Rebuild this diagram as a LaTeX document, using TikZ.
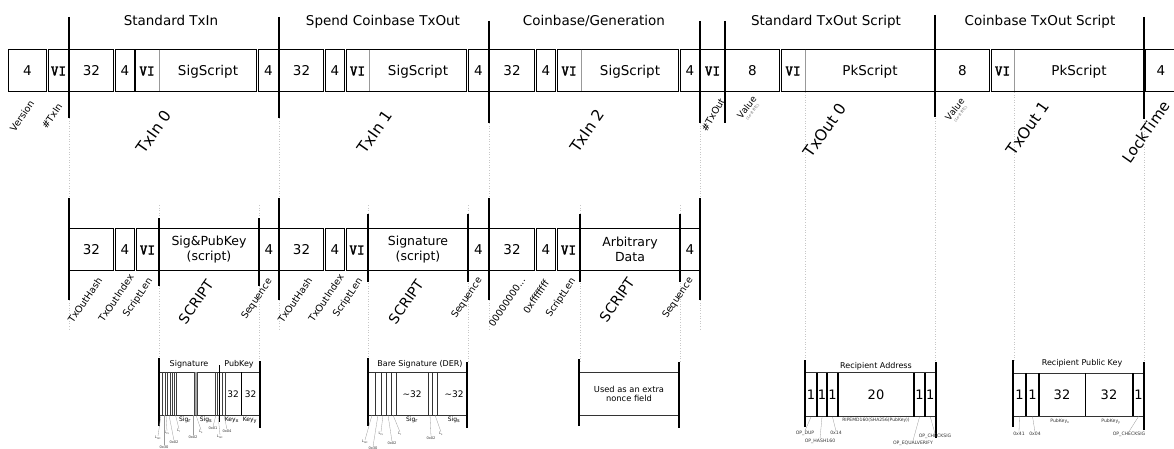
\documentclass[tikz,border=0pt]{standalone}
\usepackage{fontspec}
\setmainfont{DejaVu Sans}
\newfontfamily\lmmonob{lmmono10-regular}[Extension=.otf, FakeBold=2.5]
\newcommand\fsz[1]{\fontsize{#1}{#1}\selectfont}
\newcommand\VIf{\lmmonob\fontsize{14.5}{16}\selectfont}
\begin{document}
\begin{tikzpicture}[x=1pt,y=-1pt,
 tf/.style={draw, line width=1.2pt, minimum height=41.8pt, inner sep=0pt, text height=9.8pt, text depth=0pt, font=\fsz{13.5}},
 mf/.style={draw, line width=1pt, minimum height=42pt, inner sep=0pt, text height=9.8pt, text depth=0pt, font=\fsz{13.5}},
 txt/.style={inner sep=0pt, text height=9.8pt, text depth=0pt, font=\fsz{13.5}},
 sepl/.style={line width=2pt},
 bsep/.style={line width=2.2pt},
 dotl/.style={black!22, dotted, line width=0.6pt},
 title/.style={font=\fsz{13.5}, anchor=base, inner sep=0pt},
 lbl/.style={font=\fsz{9.5}, rotate=56, inner sep=0pt},
 big/.style={font=\fsz{15.5}, rotate=55, inner sep=0pt},
 bline/.style={line width=0.9pt, black!80},
 thinl/.style={line width=0.5pt, black!75},
 divl/.style={line width=1.2pt},
 btitle/.style={font=\fsz{8}, inner sep=0pt},
 bnum/.style={inner sep=0pt, text height=9.5pt, text depth=0pt, font=\fsz{13}},
 snum/.style={inner sep=0pt, text height=6.5pt, text depth=0pt, font=\fsz{9}},
 sub/.style={font=\fsz{6}, inner sep=0pt, anchor=base},
 tiny/.style={font=\fsz{3.6}, inner sep=0pt, black!80},
 small/.style={font=\fsz{4.6}, inner sep=0pt, black!80},
 lead/.style={line width=0.3pt, black!40}
]
\useasboundingbox (0,0) rectangle (1174,449);

% ---------- dotted guide lines ----------
\foreach \x in {69,279,489,700} \draw[dotl] (\x,92) -- (\x,330);
\foreach \x in {159,259,368,468,580,680} \draw[dotl] (\x,205) -- (\x,362);
\foreach \x in {805,935,1014,1144} \draw[dotl] (\x,92) -- (\x,362);

% ---------- section titles ----------
\node[title] (h1) at (171,26) {Standard TxIn};
\node[title] (h2) at (383,26) {Spend Coinbase TxOut};
\node[title] (h3) at (594,26) {Coinbase/Generation};
\node[title] (h4) at (826,26) {Standard TxOut Script};
\node[title] (h5) at (1040,26) {Coinbase TxOut Script};

% ---------- top row ----------
\foreach \l/\r/\t/\n in {8/47/4/ver,48/69/{\VIf VI}/ntxin,69/114/32/ha,115/135/4/ia,258/279/4/qa,279/324/32/hb,325/345/4/ib,468/489/4/qb,489/535/32/hc,536/556/4/ic,680/700/4/qc,700/725/{\VIf VI}/ntxout,725/780/8/va,935/990/8/vb}
  \node[tf, minimum width={\r-\l-1.2}] (\n) at ({(\l+\r)/2},70.5) {\t};
\node[tf, minimum width=40pt] (lock) at (1165.6,70.5) {};
\node[txt] (locktxt) at (1161,70.5) {4};
\foreach \l/\d/\r/\t/\n in {135/159/257/SigScript/sa,346/369/467/SigScript/sb,557/581/679/SigScript/sc,781/805/935/PkScript/pa,991/1014/1144/PkScript/pb} {
  \node[tf, minimum width={\r-\l-1.2}] (\n) at ({(\l+\r)/2},70.5) {};
  \draw[black!40, line width=0.6pt] (\d,49.6) -- (\d,91.4);
  \node[txt] (v\n) at ({(\l+\d)/2},70.5) {\VIf VI};
  \node[txt] (t\n) at ({(\d+\r)/2},70.5) {\t};
}
\foreach \x/\a/\b in {69/17/118,279/17/118,489/21/123,700/21/123,725/21/123,935/15/117,1144/17/119}
  \draw[sepl] (\x,\a) -- (\x,\b);

% ---------- labels under top row ----------
\node[lbl] (lver) at (22,116) {Version};
\node[lbl] (ltxin) at (52,116) {\#TxIn};
\node[big] (ltx0) at (154,132) {TxIn 0};
\node[big] (ltx1) at (375,132) {TxIn 1};
\node[big] (ltx2) at (587,131) {TxIn 2};
\node[lbl, rotate=4] (ltxout) at (713,115) {\#TxOut};
\node[font=\fsz{9}, rotate=52, align=center, inner sep=0pt] (lval1) at (749,109) {Value\\[-3.5pt]{\fsz{3.6}\color{black!60}(1e-8 BTC)}};
\node[big] (lout0) at (825,130) {TxOut 0};
\node[font=\fsz{9}, rotate=52, align=center, inner sep=0pt] (lval2) at (957,111) {Value\\[-3.5pt]{\fsz{3.6}\color{black!60}(1e-8 BTC)}};
\node[big] (lout1) at (1028,128) {TxOut 1};
\node[big, font=\fsz{15}] (llock) at (1146,132) {LockTime};

% ---------- middle row ----------
\foreach \l/\r/\t/\n in {69/114/32/mha,115/135/4/mia,136/159/{\VIf VI}/mla,259/279/4/mqa,279/324/32/mhb,325/345/4/mib,346/368/{\VIf VI}/mlb,468/489/4/mqb,489/535/32/mhc,536/556/4/mic,557/580/{\VIf VI}/mlc,680/700/4/mqc}
  \node[mf, minimum width={\r-\l-1}] (\n) at ({(\l+\r)/2},249.5) {\t};
\foreach \l/\r/\t/\n in {159/259/{Sig\&PubKey\\(script)}/msa,368/468/{Signature\\(script)}/msb,580/680/{Arbitrary\\Data}/msc}
  \node[draw, line width=1pt, minimum height=42pt, minimum width={\r-\l}, align=center, font=\fontsize{12.5}{15}\selectfont, inner sep=0pt] (\n) at ({(\l+\r)/2},249.5) {\t};
\foreach \x/\a/\b in {69/198/300,279/198/300,489/198/300,700/198/300,159/218/286,259/218/286,368/214/282,468/214/282,580/214/282,680/214/282}
  \draw[sepl] (\x,\a) -- (\x,\b);

% ---------- labels under middle row ----------
\node[lbl] (m1) at (85,300) {TxOutHash};
\node[lbl] (m2) at (116,298) {TxOutIndex};
\node[lbl] (m3) at (138,298) {ScriptLen};
\node[big, font=\fsz{14}] (m4) at (196,302) {SCRIPT};
\node[lbl] (m5) at (257,299) {Sequence};
\node[lbl] (m6) at (295,300) {TxOutHash};
\node[lbl] (m7) at (326,298) {TxOutIndex};
\node[lbl] (m8) at (348,298) {ScriptLen};
\node[big, font=\fsz{14}] (m9) at (406,302) {SCRIPT};
\node[lbl] (m10) at (467,298) {Sequence};
\node[lbl] (m11) at (507,302) {00000000...};
\node[lbl] (m12) at (536,297) {0xffffffff};
\node[lbl] (m13) at (561,298) {ScriptLen};
\node[big, font=\fsz{14}] (m14) at (617,300) {SCRIPT};
\node[lbl] (m15) at (678,298) {Sequence};

% ---------- box A: Signature / PubKey ----------
\draw[bline] (159,372) -- (260,372);
\draw[bline] (159,415) -- (260,415);
\fill[black!35] (194,372) rectangle (197,415);
\foreach \x in {162.7,165,167.3,170,172.3,174.5,176.7,194,197,215.7,217.5,222.5,225}
  \draw[thinl] (\x,372) -- (\x,415);
\draw[line width=0.8pt] (241,372) -- (241,415);
\draw[bsep] (159.3,358) -- (159.3,426);
\draw[bsep] (260,361) -- (260,428);
\draw[line width=1.6pt] (219.3,365) -- (219.3,422);
\node[btitle] (asig) at (189,364) {Signature};
\node[btitle] (apub) at (239,364) {PubKey};
\node[snum] (a32x) at (233,394) {32};
\node[snum] (a32y) at (250.5,394) {32};
\node[sub] (asr) at (185,421) {Sig\textsubscript{r}};
\node[sub] (ass) at (206,421) {Sig\textsubscript{s}};
\node[sub] (akx) at (232,421) {Key\textsubscript{x}};
\node[sub] (aky) at (250,421) {Key\textsubscript{y}};
\node[tiny] (at1) at (158,438) {L\textsubscript{tot}};
\node[tiny] (at2) at (164,447) {0x30};
\node[tiny] (at3) at (167,433) {L\textsubscript{rs}};
\node[tiny] (at4) at (174,442) {0x02};
\node[tiny] (at5) at (179,431) {L\textsubscript{r}};
\node[tiny] (at6) at (193,437) {0x02};
\node[tiny] (at7) at (201,432) {L\textsubscript{s}};
\node[tiny] (at8) at (213,428) {0x01};
\node[tiny] (at9) at (220,437) {L\textsubscript{tot}};
\node[tiny] (at10) at (227,431) {0x04};
\coordinate (ap1) at (161,415); \coordinate (ap2) at (164,415);
\coordinate (ap3) at (166,415); \coordinate (ap4) at (169,415);
\coordinate (ap5) at (175.5,415); \coordinate (ap6) at (193,415);
\coordinate (ap7) at (196,415); \coordinate (ap8) at (216,415);
\coordinate (ap9) at (218,415); \coordinate (ap10) at (224,415);
\foreach \i in {1,...,10} \draw[lead] (ap\i) -- (at\i.north);

% ---------- box B: Bare Signature ----------
\draw[bline] (368,372) -- (467,372);
\draw[bline] (368,415) -- (467,415);
\foreach \x in {375.5,381,386,391,396,428.5,432.5,437.5}
  \draw[line width=0.7pt, black!80] (\x,372) -- (\x,415);
\draw[bsep] (368.3,358) -- (368.3,426);
\draw[bsep] (467.3,362) -- (467.3,428);
\node[btitle] (btit) at (420,364) {Bare Signature (DER)};
\node[snum] (b32r) at (412,394) {\textasciitilde32};
\node[snum] (b32s) at (454,394) {\textasciitilde32};
\node[sub] (bsr) at (412,421) {Sig\textsubscript{r}};
\node[sub] (bss) at (454,421) {Sig\textsubscript{s}};
\node[tiny] (bt1) at (365,442) {L\textsubscript{tot}};
\node[tiny] (bt2) at (373,448) {0x30};
\node[tiny] (bt3) at (381,434) {L\textsubscript{rs}};
\node[tiny] (bt4) at (392,443) {0x02};
\node[tiny] (bt5) at (400,434) {L\textsubscript{r}};
\node[tiny] (bt6) at (431,438) {0x02};
\node[tiny] (bt7) at (441,434) {L\textsubscript{s}};
\coordinate (bp1) at (372,415); \coordinate (bp2) at (378,415);
\coordinate (bp3) at (383,415); \coordinate (bp4) at (388,415);
\coordinate (bp5) at (393,415); \coordinate (bp6) at (430,415);
\coordinate (bp7) at (435,415);
\foreach \i in {1,...,7} \draw[lead] (bp\i) -- (bt\i.north);

% ---------- box C: nonce ----------
\draw[bline] (579,372) -- (679,372);
\draw[bline] (579,415) -- (679,415);
\draw[bsep] (579,359) -- (579,426);
\draw[bsep] (679,362) -- (679,428);
\node[align=center, font=\fontsize{8.3}{9.6}\selectfont, inner sep=0pt] (cnon) at (629,394) {Used as an extra\\nonce field};

% ---------- box D: Recipient Address ----------
\draw[bline] (805,372.7) -- (935,372.7);
\draw[bline] (805,416.7) -- (935,416.7);
\foreach \x in {817,827,838,914,925} \draw[divl] (\x,372.7) -- (\x,416.7);
\draw[bsep] (805,360) -- (805,427);
\draw[bsep] (935.7,362) -- (935.7,438);
\node[btitle] (dtit) at (876,366) {Recipient Address};
\node[bnum] (d1) at (811,394.5) {1};
\node[bnum] (d2) at (822,394.5) {1};
\node[bnum] (d3) at (832.5,394.5) {1};
\node[bnum] (d4) at (876,394.5) {20};
\node[bnum] (d5) at (919.5,394.5) {1};
\node[bnum] (d6) at (930.3,394.5) {1};
\node[font=\fsz{4.5}, inner sep=0pt, black!80] (dhash) at (876,420) {RIPEMD160(SHA256(PubKey))};
\node[small] (dl1) at (805,433) {OP\_DUP};
\node[small] (dl2) at (820,441) {OP\_HASH160};
\node[small] (dl3) at (836,433) {0x14};
\node[small] (dl5) at (913,443) {OP\_EQUALVERIFY};
\node[small] (dl6) at (935,436) {OP\_CHECKSIG};
\foreach \i in {1,2,3,5,6} \draw[lead] (d\i |- 0,417) -- (dl\i.north);

% ---------- box E: Recipient Public Key ----------
\draw[bline] (1013,373.3) -- (1144,373.3);
\draw[bline] (1013,416) -- (1144,416);
\foreach \x in {1026,1039,1085.5,1133} \draw[divl] (\x,373.3) -- (\x,416);
\draw[bsep] (1013.3,360) -- (1013.3,427);
\draw[bsep] (1144.3,362) -- (1144.3,430);
\node[btitle] (etit) at (1082,363.5) {Recipient Public Key};
\node[bnum] (e1) at (1019.5,394.5) {1};
\node[bnum] (e2) at (1032.5,394.5) {1};
\node[bnum] (e3) at (1062,394.5) {32};
\node[bnum] (e4) at (1109,394.5) {32};
\node[bnum] (e5) at (1138.5,394.5) {1};
\node[small, anchor=base] (ekx) at (1060,422) {PubKey\textsubscript{x}};
\node[small, anchor=base] (eky) at (1111,422) {PubKey\textsubscript{y}};
\node[small] (el1) at (1019,434) {0x41};
\node[small] (el2) at (1035,434) {0x04};
\node[small] (el5) at (1129,434) {OP\_CHECKSIG};
\foreach \i in {1,2,5} \draw[lead] (e\i |- 0,416.5) -- (el\i.north);
\end{tikzpicture}
\end{document}
